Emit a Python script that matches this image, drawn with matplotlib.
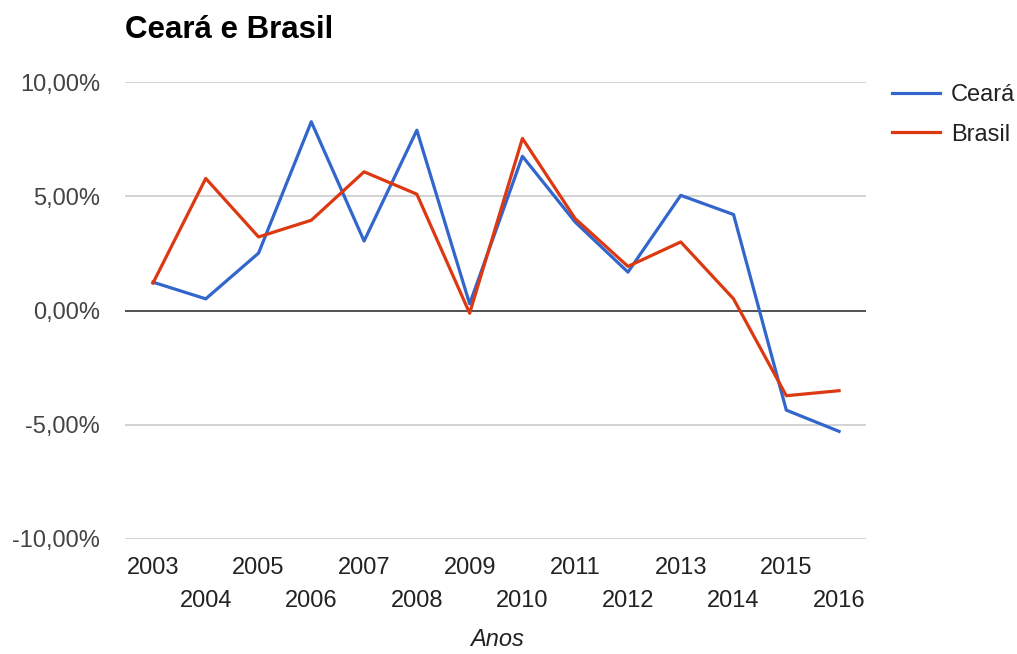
import matplotlib
matplotlib.use("Agg")
import matplotlib.pyplot as plt
from matplotlib.ticker import FixedLocator

plt.rcParams['font.family'] = ['Liberation Sans', 'DejaVu Sans']

anos = ['2003', '2004', '2005', '2006', '2007', '2008', '2009', '2010',
        '2011', '2012', '2013', '2014', '2015', '2016']
ceara = [1.24, 0.51, 2.51, 8.26, 3.04, 7.89, 0.29, 6.75, 3.87, 1.68, 5.04, 4.20, -4.36, -5.29]
brasil = [1.20, 5.78, 3.22, 3.95, 6.07, 5.09, -0.12, 7.53, 4.02, 1.93, 3.00, 0.51, -3.73, -3.51]
yticks = [-10, -5, 0, 5, 10]
ytick_labels = ['-10,00%', '-5,00%', '0,00%', '5,00%', '10,00%']

W, H = 1017, 654
fig = plt.figure(figsize=(W / 100, H / 100), dpi=100)
left, right, top, bottom = 125, 866, 82, 539
ax = fig.add_axes([left / W, 1 - bottom / H, (right - left) / W, (bottom - top) / H])

x = list(range(len(anos)))
ax.plot(x, ceara, color='#3366CC', lw=2.3, label='Ceará', zorder=3)
ax.plot(x, brasil, color='#DC3912', lw=2.3, label='Brasil', zorder=3)

ax.set_ylim(-10, 10)
ax.set_xlim(-0.53, 13.51)
ax.set_yticks(yticks)
ax.set_yticklabels(ytick_labels)
for v in yticks:
    if v == 0:
        ax.axhline(v, color='#333333', lw=1.2, zorder=2)
    else:
        ax.axhline(v, color='#CCCCCC', lw=1.2, zorder=1)

for s in ax.spines.values():
    s.set_visible(False)

fs = 17
ax.xaxis.set_major_locator(FixedLocator(x[0::2]))
ax.set_xticklabels(anos[0::2])
ax.xaxis.set_minor_locator(FixedLocator(x[1::2]))
ax.set_xticklabels(anos[1::2], minor=True)
ax.tick_params(axis='x', which='major', length=0, pad=13, labelsize=fs, labelcolor='#222222')
ax.tick_params(axis='x', which='minor', length=0, pad=37, labelsize=fs, labelcolor='#222222')
ax.tick_params(axis='y', length=0, pad=18, labelsize=fs, labelcolor='#444444')

fig.text(497 / W, 1 - 640 / H, 'Anos', fontsize=fs, style='italic', color='#222222',
         ha='center', va='center')

fig.text(125 / W, 1 - 30 / H, 'Ceará e Brasil', fontsize=22.5, fontweight='bold',
         va='center', ha='left', color='#000000')

leg = ax.legend(loc='upper left', bbox_to_anchor=(892 / W, 1 - 84 / H),
                bbox_transform=fig.transFigure, frameon=False, fontsize=fs,
                handlelength=2.05, handletextpad=0.45, labelspacing=0.75,
                borderpad=0, borderaxespad=0)
for t in leg.get_texts():
    t.set_color('#222222')

fig.savefig('out.png', dpi=100)
